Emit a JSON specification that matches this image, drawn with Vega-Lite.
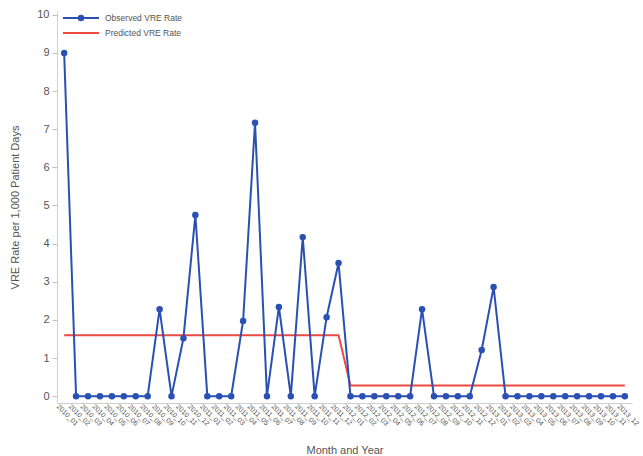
{
  "$schema": "https://vega.github.io/schema/vega-lite/v6.json",
  "autosize": "none",
  "width": 575,
  "height": 392,
  "padding": {"left": 57, "top": 11, "right": 11, "bottom": 53},
  "background": "white",
  "config": {
    "font": "Liberation Sans",
    "view": {"stroke": null},
    "axis": {
      "domainColor": "#d0d0d0",
      "tickColor": "#c0c0c0",
      "labelColor": "#555555",
      "titleColor": "#555555",
      "titleFontWeight": "normal",
      "grid": false
    }
  },
  "data": {
    "values": [
      {"month": "2010_01", "observed": 9.0, "predicted": 1.6},
      {"month": "2010_02", "observed": 0, "predicted": 1.6},
      {"month": "2010_03", "observed": 0, "predicted": 1.6},
      {"month": "2010_04", "observed": 0, "predicted": 1.6},
      {"month": "2010_05", "observed": 0, "predicted": 1.6},
      {"month": "2010_06", "observed": 0, "predicted": 1.6},
      {"month": "2010_07", "observed": 0, "predicted": 1.6},
      {"month": "2010_08", "observed": 0, "predicted": 1.6},
      {"month": "2010_09", "observed": 2.28, "predicted": 1.6},
      {"month": "2010_10", "observed": 0, "predicted": 1.6},
      {"month": "2010_11", "observed": 1.52, "predicted": 1.6},
      {"month": "2010_12", "observed": 4.75, "predicted": 1.6},
      {"month": "2011_01", "observed": 0, "predicted": 1.6},
      {"month": "2011_02", "observed": 0, "predicted": 1.6},
      {"month": "2011_03", "observed": 0, "predicted": 1.6},
      {"month": "2011_04", "observed": 1.97, "predicted": 1.6},
      {"month": "2011_05", "observed": 7.17, "predicted": 1.6},
      {"month": "2011_06", "observed": 0, "predicted": 1.6},
      {"month": "2011_07", "observed": 2.34, "predicted": 1.6},
      {"month": "2011_08", "observed": 0, "predicted": 1.6},
      {"month": "2011_09", "observed": 4.17, "predicted": 1.6},
      {"month": "2011_10", "observed": 0, "predicted": 1.6},
      {"month": "2011_11", "observed": 2.07, "predicted": 1.6},
      {"month": "2011_12", "observed": 3.49, "predicted": 1.6},
      {"month": "2012_01", "observed": 0, "predicted": 0.28},
      {"month": "2012_02", "observed": 0, "predicted": 0.28},
      {"month": "2012_03", "observed": 0, "predicted": 0.28},
      {"month": "2012_04", "observed": 0, "predicted": 0.28},
      {"month": "2012_05", "observed": 0, "predicted": 0.28},
      {"month": "2012_06", "observed": 0, "predicted": 0.28},
      {"month": "2012_07", "observed": 2.28, "predicted": 0.28},
      {"month": "2012_08", "observed": 0, "predicted": 0.28},
      {"month": "2012_09", "observed": 0, "predicted": 0.28},
      {"month": "2012_10", "observed": 0, "predicted": 0.28},
      {"month": "2012_11", "observed": 0, "predicted": 0.28},
      {"month": "2012_12", "observed": 1.21, "predicted": 0.28},
      {"month": "2013_01", "observed": 2.86, "predicted": 0.28},
      {"month": "2013_02", "observed": 0, "predicted": 0.28},
      {"month": "2013_03", "observed": 0, "predicted": 0.28},
      {"month": "2013_04", "observed": 0, "predicted": 0.28},
      {"month": "2013_05", "observed": 0, "predicted": 0.28},
      {"month": "2013_06", "observed": 0, "predicted": 0.28},
      {"month": "2013_07", "observed": 0, "predicted": 0.28},
      {"month": "2013_08", "observed": 0, "predicted": 0.28},
      {"month": "2013_09", "observed": 0, "predicted": 0.28},
      {"month": "2013_10", "observed": 0, "predicted": 0.28},
      {"month": "2013_11", "observed": 0, "predicted": 0.28},
      {"month": "2013_12", "observed": 0, "predicted": 0.28}
    ]
  },
  "encoding": {
    "x": {
      "field": "month",
      "type": "ordinal",
      "sort": null,
      "scale": {"type": "point", "padding": 0.6},
      "axis": {
        "title": "Month and Year",
        "titleFontSize": 11,
        "titleY": 41,
        "labelAngle": 45,
        "labelAlign": "left",
        "labelBaseline": "middle",
        "labelFontSize": 7,
        "labelPadding": 2,
        "labelOffset": -7,
        "labelOverlap": false,
        "labelBound": false,
        "ticks": false
      }
    }
  },
  "layer": [
    {
      "mark": {"type": "line", "strokeWidth": 2},
      "encoding": {
        "y": {
          "field": "predicted",
          "type": "quantitative",
          "scale": {"domain": [-0.18, 10.1], "nice": false, "zero": false},
          "axis": {
            "title": "VRE Rate per 1,000 Patient Days",
            "titleFontSize": 11,
            "titlePadding": 16,
            "values": [0, 1, 2, 3, 4, 5, 6, 7, 8, 9, 10],
            "labelOverlap": false,
            "labelFontSize": 11,
            "labelPadding": 3,
            "tickSize": 5
          }
        },
        "color": {"datum": "Predicted VRE Rate"}
      }
    },
    {
      "mark": {"type": "line", "strokeWidth": 2, "point": {"filled": true, "size": 42}},
      "encoding": {
        "y": {
          "field": "observed",
          "type": "quantitative",
          "scale": {"domain": [-0.18, 10.1], "nice": false, "zero": false},
          "axis": {
            "title": "VRE Rate per 1,000 Patient Days",
            "titleFontSize": 11,
            "titlePadding": 16,
            "values": [0, 1, 2, 3, 4, 5, 6, 7, 8, 9, 10],
            "labelOverlap": false,
            "labelFontSize": 11,
            "labelPadding": 3,
            "tickSize": 5
          }
        },
        "color": {
          "datum": "Observed VRE Rate",
          "scale": {
            "domain": ["Observed VRE Rate", "Predicted VRE Rate"],
            "range": ["#2b50b4", "#ea4a40"]
          },
          "legend": {
            "title": null,
            "orient": "none",
            "legendX": 18,
            "legendY": 1,
            "labelFontSize": 8.5,
            "labelColor": "#555555",
            "symbolSize": 100,
            "symbolStrokeWidth": 2,
            "rowPadding": 2,
            "labelOffset": 18,
            "encode": {
              "symbols": {
                "update": {
                  "shape": {"signal": "datum.value === 'Observed VRE Rate' ? 'M-3.6,0L3.6,0M-0.45,0A0.45,0.45 0 1,1 0.45,0A0.45,0.45 0 1,1 -0.45,0Z' : 'M-3.6,0L3.6,0'"},
                  "fill": {"signal": "datum.value === 'Observed VRE Rate' ? '#2b50b4' : 'transparent'"}
                }
              }
            }
          }
        }
      }
    }
  ]
}
